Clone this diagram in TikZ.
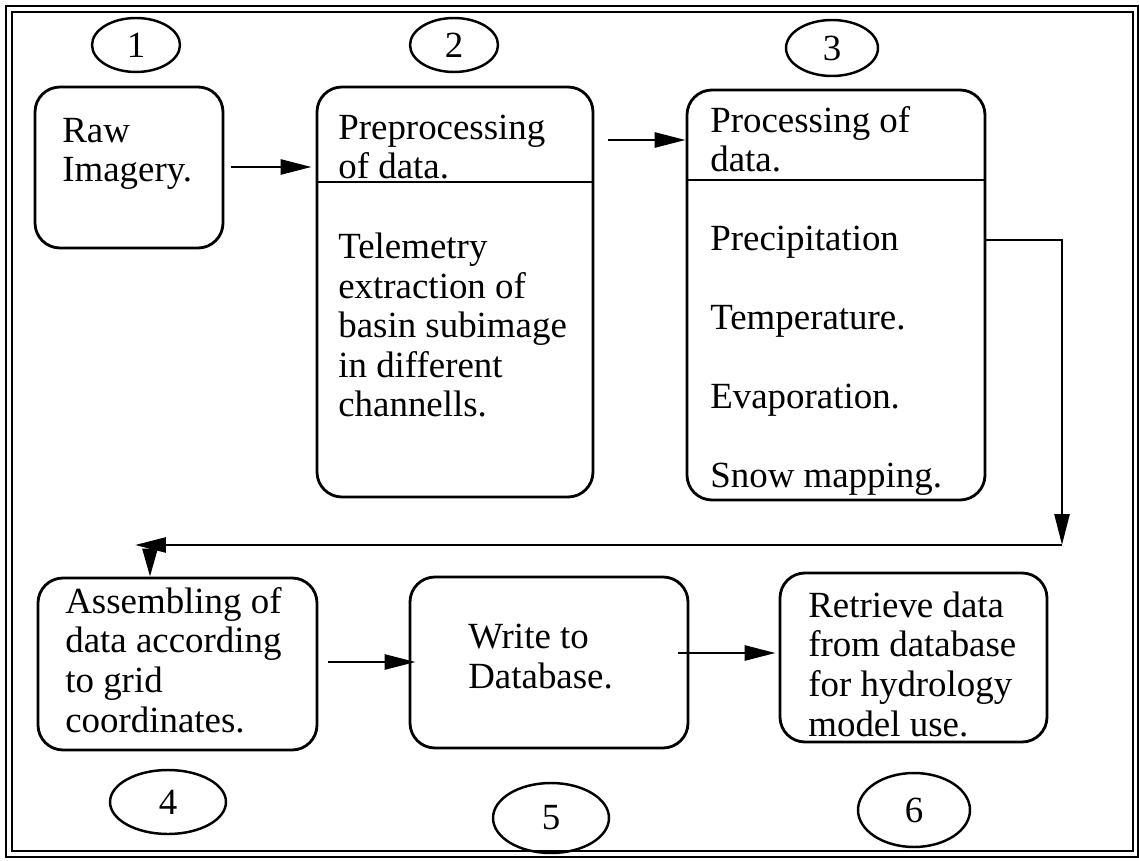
\documentclass[tikz,border=0pt]{standalone}
\usepackage{fontspec}
\setmainfont{Liberation Serif}
\usepackage{tikz}
\usetikzlibrary{arrows.meta, positioning, calc, fit, shapes}

\begin{document}
\begin{tikzpicture}[x=0.02cm, y=-0.02cm,
    box/.style={draw, line width=1.6pt, rounded corners=0.5cm, inner sep=0pt},
    num/.style={draw, ellipse, line width=1.4pt, inner sep=0pt, font=\fontsize{21}{22}\selectfont},
    txt/.style={anchor=base west, inner sep=0pt, align=left, font=\fontsize{21}{22.5}\selectfont},
    arr/.style={line width=1.5pt, -{Triangle[length=0.62cm, width=0.3cm]}}]
    \useasboundingbox (0,0) rectangle (1139,861);

    % 外框（双线）
    \draw[line width=1.2pt] (6,6) rectangle (1138,857);
    \draw[line width=1.2pt] (12,12) rectangle (1133,851);

    % 上排：1 2 3 （文字按最后一行的基线放）
    \node[box, fit={(35,87) (223,248)}] (raw) {};
    \node[txt] (rawtxt) at (62,182) {Raw\\Imagery.};
    \node[num, minimum width=1.76cm, minimum height=1.08cm] (n1) at (136,45) {1};

    \node[box, fit={(317,87) (593,497)}] (prep) {};
    \draw[line width=1.4pt] (prep.west |- 0,182) -- (prep.east |- 0,182);
    \node[txt] (preptitle) at (338,179) {Preprocessing\\of data.};
    \node[txt] (preptxt) at (338,417) {Telemetry\\extraction of\\basin subimage\\in different\\channells.};
    \node[num, minimum width=1.76cm, minimum height=1.08cm] (n2) at (454,45) {2};

    \node[box, fit={(687,90) (985,500)}] (proc) {};
    \draw[line width=1.4pt] (proc.west |- 0,180) -- (proc.east |- 0,180);
    \node[txt] (proctitle) at (710,172) {Processing of\\data.};
    \node[txt] (proctxt) at (710,487) {Precipitation\\[22.3pt]Temperature.\\[22.3pt]Evaporation.\\[22.3pt]Snow mapping.};
    \node[num, minimum width=1.84cm, minimum height=1.12cm] (n3) at (832,48) {3};

    % 下排：4 5 6
    \node[box, fit={(38,578) (317,750)}] (asm) {};
    \node[txt] (asmtxt) at (65,732) {Assembling of\\data according\\to grid\\coordinates.};
    \node[num, minimum width=2.32cm, minimum height=1.28cm] (n4) at (168,802) {4};

    \node[box, fit={(410,577) (688,748)}] (db) {};
    \node[txt] (dbtxt) at (468,688) {Write to\\Database.};
    \node[num, minimum width=2.32cm, minimum height=1.4cm] (n5) at (551,818) {5};

    \node[box, fit={(780,573) (1047,742)}] (get) {};
    \node[txt] (gettxt) at (808,736) {Retrieve data\\from database\\for hydrology\\model use.};
    \node[num, minimum width=2.24cm, minimum height=1.48cm] (n6) at (914,810) {6};

    % 箭头
    \draw[arr, shorten <=0.14cm, shorten >=0.08cm] (raw.east |- 0,167) -- (prep.west |- 0,167);
    \draw[arr, shorten <=0.28cm] (prep.east |- 0,140) -- (proc.west |- 0,140);

    \coordinate (c1) at (1062,545);
    \coordinate (c2) at (135,545);
    \coordinate (c3) at (150,548);
    \draw[arr] (proc.east |- 0,240) -| (c1);
    \draw[arr] (c1) -- (c2);
    \draw[arr, -{Triangle[length=0.56cm, width=0.3cm]}] (c3) -- (c3 |- asm.north);

    \draw[arr, shorten <=0.2cm, shorten >=-0.14cm] (asm.east |- 0,662) -- (db.west |- 0,662);
    \draw[arr, shorten <=-0.22cm, shorten >=0.06cm] (db.east |- 0,653) -- (get.west |- 0,653);
\end{tikzpicture}
\end{document}
